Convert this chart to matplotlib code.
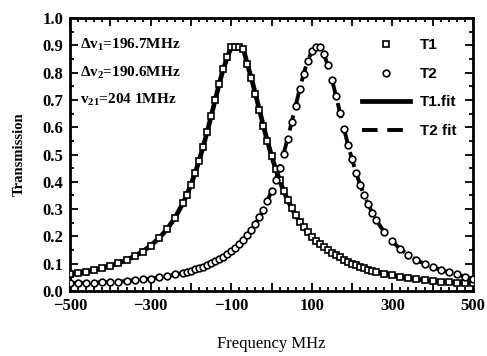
import matplotlib
matplotlib.use("Agg")
import matplotlib.pyplot as plt
from matplotlib.ticker import MultipleLocator

plt.rcParams["font.family"] = ["Liberation Serif", "DejaVu Serif"]
plt.rcParams["mathtext.fontset"] = "custom"
plt.rcParams["mathtext.rm"] = "Liberation Serif:bold"
plt.rcParams["mathtext.it"] = "Liberation Serif:bold"
plt.rcParams["mathtext.bf"] = "Liberation Serif:bold"

# frequency detuning (MHz)
freq = [-500, -480, -460, -440, -420, -400, -380, -360, -340, -320,
        -300, -280, -260, -240, -220, -210, -200, -190, -180, -170,
        -160, -150, -140, -130, -120, -110, -100, -90, -80, -70,
        -60, -50, -40, -30, -20, -10, 0, 10, 20, 30,
        40, 50, 60, 70, 80, 90, 100, 110, 120, 130,
        140, 150, 160, 170, 180, 190, 200, 210, 220, 230,
        240, 250, 260, 280, 300, 320, 340, 360, 380, 400,
        420, 440, 460, 480, 500]

t1 = [0.060, 0.065, 0.070, 0.076, 0.083, 0.092, 0.101, 0.113, 0.127, 0.144,
      0.166, 0.192, 0.225, 0.267, 0.321, 0.353, 0.390, 0.431, 0.476, 0.527,
      0.581, 0.640, 0.699, 0.758, 0.812, 0.856, 0.893, 0.896, 0.896, 0.888,
      0.831, 0.780, 0.723, 0.663, 0.604, 0.548, 0.496, 0.448, 0.406, 0.367,
      0.334, 0.304, 0.277, 0.254, 0.233, 0.214, 0.198, 0.183, 0.170, 0.159,
      0.148, 0.139, 0.130, 0.123, 0.114, 0.106, 0.099, 0.094, 0.088, 0.083,
      0.078, 0.074, 0.070, 0.063, 0.057, 0.051, 0.047, 0.043, 0.039, 0.036,
      0.034, 0.032, 0.030, 0.029, 0.028]

t2 = [0.028, 0.028, 0.029, 0.030, 0.031, 0.032, 0.034, 0.036, 0.039, 0.042,
      0.045, 0.049, 0.054, 0.060, 0.066, 0.070, 0.074, 0.079, 0.084, 0.089,
      0.095, 0.101, 0.109, 0.117, 0.125, 0.135, 0.146, 0.158, 0.172, 0.187,
      0.204, 0.223, 0.245, 0.270, 0.298, 0.330, 0.366, 0.407, 0.452, 0.503,
      0.558, 0.618, 0.679, 0.740, 0.797, 0.844, 0.878, 0.894, 0.896, 0.867,
      0.827, 0.775, 0.716, 0.654, 0.594, 0.536, 0.482, 0.433, 0.390, 0.351,
      0.317, 0.287, 0.260, 0.215, 0.181, 0.153, 0.131, 0.113, 0.099, 0.087,
      0.077, 0.068, 0.061, 0.052, 0.044]

x_ticks = [-500, -400, -300, -200, -100, 0, 100, 200, 300, 400, 500]
x_labels = ["\u2212500", "", "\u2212300", "", "\u2212100", "", "100", "", "300", "", "500"]
y_ticks = [0.0, 0.1, 0.2, 0.3, 0.4, 0.5, 0.6, 0.7, 0.8, 0.9, 1.0]

notes = ["\u0394v$_1$=196.7MHz", "\u0394v$_2$=190.6MHz", "v$_{21}$=204 1MHz"]

fig = plt.figure(figsize=(4.87, 3.56), dpi=100)
ax = fig.add_axes([0.144, 0.183, 0.827, 0.766])

ax.plot(freq, t1, color="black", linewidth=3.4, label="T1.fit", zorder=2)
ax.plot(freq, t2, color="black", linewidth=2.8, linestyle=(0, (4, 2.5)),
        label="T2 fit", zorder=2)
ax.plot(freq, t1, linestyle="none", marker="s", markersize=4.8,
        markerfacecolor="white", markeredgecolor="black", markeredgewidth=1.2,
        label="T1", zorder=3)
ax.plot(freq, t2, linestyle="none", marker="o", markersize=4.8,
        markerfacecolor="white", markeredgecolor="black", markeredgewidth=1.2,
        label="T2", zorder=3)

ax.set_xlim(-500, 500)
ax.set_ylim(0.0, 1.0)
ax.set_xticks(x_ticks)
ax.set_xticklabels(x_labels)
ax.set_yticks(y_ticks)
ax.set_yticklabels([f"{v:.1f}" for v in y_ticks])
ax.xaxis.set_minor_locator(MultipleLocator(20))
ax.yaxis.set_minor_locator(MultipleLocator(0.05))

ax.tick_params(which="both", direction="in", top=True, right=True, width=1.3)
ax.tick_params(which="major", length=6, labelsize=12)
ax.tick_params(axis="x", which="major", pad=5)
ax.tick_params(axis="y", which="major", pad=5)
ax.tick_params(which="minor", length=3)
for lab in ax.get_xticklabels() + ax.get_yticklabels():
    lab.set_fontweight("bold")
for sp in ax.spines.values():
    sp.set_linewidth(2.0)

ax.set_ylabel("Transmission", fontsize=10.5, fontweight="bold", labelpad=12)
ax.set_xlabel("Frequency MHz", fontsize=12, labelpad=16)

for i, txt in enumerate(notes):
    ax.text(0.025, 0.9 - i * 0.1, txt, transform=ax.transAxes,
            fontsize=11, fontweight="bold", va="center", ha="left")

handles, labels = ax.get_legend_handles_labels()
order = [2, 3, 0, 1]
leg = ax.legend([handles[i] for i in order], [labels[i] for i in order],
                loc="upper right", bbox_to_anchor=(0.985, 0.965), frameon=False,
                handlelength=3.2, handletextpad=0.6, labelspacing=0.95,
                borderaxespad=0.3,
                prop={"family": "Liberation Sans", "weight": "bold", "size": 11})

fig.savefig("out.png", dpi=100)
